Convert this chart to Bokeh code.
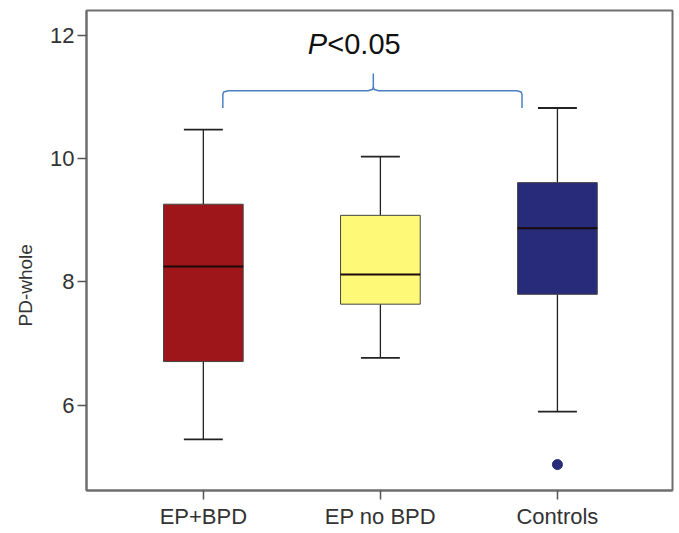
from bokeh.plotting import figure
from bokeh.models import Range1d, FixedTicker, ColumnDataSource, Title
from bokeh.core.properties import value
from bokeh.embed import file_html
from bokeh.resources import INLINE

# ---- data ----
groups = ["EP+BPD", "EP no BPD", "Controls"]
lower_whisker = [5.45, 6.77, 5.90]
q1 = [6.71, 7.64, 7.80]
median = [8.25, 8.12, 8.87]
q3 = [9.26, 9.08, 9.61]
upper_whisker = [10.47, 10.03, 10.82]
box_colors = ["#9E161A", "#FFF978", "#272B7A"]
outlier_group = [3]
outlier_value = [5.04]
y_ticks = [6, 8, 10, 12]
y_title = "PD-whole"
p_text = "<0.05"

FONT = "Liberation Sans"
xs = [i + 1 for i in range(len(groups))]
bw = 0.225   # half box width
cw = 0.11    # half cap width

p = figure(width=676, height=531, output_backend="svg", toolbar_location=None,
           x_range=Range1d(0.34, 3.65), y_range=Range1d(4.62, 12.4),
           min_border_left=85, min_border_right=4, min_border_top=10, min_border_bottom=37)
p.grid.visible = False
p.outline_line_color = "#6E6E6E"
p.outline_line_width = 2
p.background_fill_color = "white"
p.border_fill_color = "white"

src = ColumnDataSource(dict(x=xs, lo=lower_whisker, q1=q1, med=median, q3=q3, hi=upper_whisker,
                            color=box_colors,
                            left=[x - bw for x in xs], right=[x + bw for x in xs],
                            cl=[x - cw for x in xs], cr=[x + cw for x in xs]))

# whiskers
p.segment(x0="x", y0="q3", x1="x", y1="hi", source=src, line_color="#222222", line_width=1.3)
p.segment(x0="x", y0="lo", x1="x", y1="q1", source=src, line_color="#222222", line_width=1.3)
p.segment(x0="cl", y0="hi", x1="cr", y1="hi", source=src, line_color="#222222", line_width=1.8)
p.segment(x0="cl", y0="lo", x1="cr", y1="lo", source=src, line_color="#222222", line_width=1.8)
# boxes
p.quad(left="left", right="right", bottom="q1", top="q3", source=src,
       fill_color="color", line_color="#444444", line_width=1)
# medians
p.segment(x0="left", y0="med", x1="right", y1="med", source=src, line_color="#1A0A0A", line_width=2)
# outlier
p.scatter(x=outlier_group, y=outlier_value, size=10, marker="circle",
          fill_color=box_colors[2], line_color=box_colors[2])

# significance bracket (annotation)
bl, br, bc = 1.11, 2.80, 1.96
by, bend, btop = 11.10, 10.82, 11.38
r = 0.03
bx = [bl, bl, bl + 0.005, bl + r, bc - r, bc - 0.005, bc, bc, bc, bc + 0.005, bc + r, br - r, br - 0.005, br, br]
byy = [bend, by - 0.06, by - 0.02, by, by, by + 0.02, by + 0.06, btop, by + 0.06, by + 0.02, by, by, by - 0.02, by - 0.06, bend]
p.line(bx, byy, line_color="#4A7FC4", line_width=1.5)

p.text(x=[1.59], y=[11.85], text=["P"], text_font=value(FONT), text_font_style="italic",
       text_font_size="29px", text_align="left", text_baseline="middle", text_color="#111111")
p.text(x=[1.70], y=[11.85], text=[p_text], text_font=value(FONT),
       text_font_size="29px", text_align="left", text_baseline="middle", text_color="#111111")

# axes
p.xaxis.ticker = FixedTicker(ticks=xs)
p.xaxis.major_label_overrides = {x: g for x, g in zip(xs, groups)}
p.yaxis.ticker = FixedTicker(ticks=y_ticks)
for ax in (p.xaxis, p.yaxis):
    ax.axis_line_color = "#6E6E6E"
    ax.axis_line_width = 2
    ax.major_tick_line_color = "#555555"
    ax.major_tick_line_width = 1.5
    ax.major_tick_out = 9
    ax.major_tick_in = 0
    ax.minor_tick_line_color = None
    ax.major_label_text_font = FONT
    ax.major_label_text_font_size = "22px"
    ax.major_label_text_color = "#333333"
p.xaxis.major_label_standoff = 4
p.yaxis.major_label_standoff = 3

# y-axis title, placed a little below the frame centre as in the reference
p.add_layout(Title(text=y_title, align="left", offset=164, standoff=24,
                   text_font=FONT, text_font_size="19px", text_font_style="normal",
                   text_color="#333333"), "left")

open("out.html", "w").write(file_html(p, INLINE))
